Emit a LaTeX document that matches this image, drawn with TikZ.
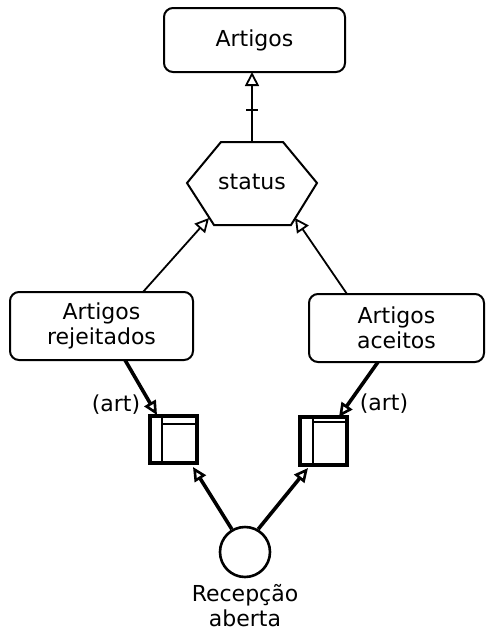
\documentclass[tikz,border=0pt]{standalone}
\usepackage{fontspec}
\setmainfont{DejaVu Sans}
\usetikzlibrary{arrows.meta}
\begin{document}
\begin{tikzpicture}[x=1pt,y=-1pt,
  lbl/.style={font=\fontsize{22}{25}\selectfont, align=center},
  entity/.style={draw, line width=2pt, rounded corners=9pt, lbl},
  isa/.style={line width=1.8pt, -{Triangle[open,length=14pt,width=14pt,line width=1.8pt]}},
  flow/.style={line width=3.6pt, -{Triangle[open,length=14pt,width=13pt,line width=2.6pt]}},
  storebox/.style={draw, line width=3.2pt, inner sep=0pt}]
\useasboundingbox[fill=white] (0,0) rectangle (486,632);

% entities
\node[entity, minimum width=181pt, minimum height=64pt] (art) at (254.5,40) {Artigos};
\node[entity, minimum width=183pt, minimum height=68pt] (rej) at (101.5,326) {Artigos\\rejeitados};
\node[entity, minimum width=175pt, minimum height=68pt] (ace) at (396.5,328) {Artigos\\aceitos};

% status hexagon
\coordinate (h1) at (221,142);
\coordinate (h2) at (283,142);
\coordinate (h3) at (317,183);
\coordinate (h4) at (291,225);
\coordinate (h5) at (214,225);
\coordinate (h6) at (187,183);
\draw[line width=2pt, line join=miter] (h1) -- (h2) -- (h3) -- (h4) -- (h5) -- (h6) -- cycle;
\node[lbl] (status) at (252,182) {status};
\coordinate (stTop) at (252,142);
\coordinate (artBot) at (252,72);
\coordinate (stL) at (209,218);
\coordinate (stR) at (295,218);

% generalisation links
\draw[isa] (stTop) -- (artBot);
\draw[line width=1.8pt] (246,110) -- (258,110);
\coordinate (rejTop) at (143,292);
\coordinate (aceTop) at (347,294);
\draw[isa] (rejTop) -- (stL);
\draw[isa] (aceTop) -- (stR);

% data stores
\draw[storebox] (150,416) rectangle (197,463);
\node[inner sep=0pt] (sL) at (173.5,439.5) {};
\draw[line width=2.4pt] (162,416) -- (162,463);
\draw[line width=1.8pt] (162,424) -- (197,424);
\draw[storebox] (300,417) rectangle (347,465);
\node[inner sep=0pt] (sR) at (323.5,441) {};
\draw[line width=2.4pt] (313,417) -- (313,465);
\draw[line width=1.8pt] (313,422) -- (347,422);

% initial state
\node[draw, circle, line width=2.6pt, minimum size=50pt, inner sep=0pt] (rec) at (245,552) {};
\node[lbl, anchor=north] (recLbl) at (245,581) {Recepção\\aberta};

% flows
\coordinate (rejBot) at (125,360);
\coordinate (aceBot) at (378,362);
\coordinate (sLin) at (157,415);
\coordinate (sRin) at (339,417);
\coordinate (sLout) at (193,467);
\coordinate (sRout) at (308,468);
\draw[flow] (rejBot) -- (sLin);
\draw[flow] (aceBot) -- (sRin);
\draw[flow] (rec.120) -- (sLout);
\draw[flow] (rec.60) -- (sRout);
\node[lbl] (artL) at (116,405) {(art)};
\node[lbl] (artR) at (384,404) {(art)};
\end{tikzpicture}
\end{document}
